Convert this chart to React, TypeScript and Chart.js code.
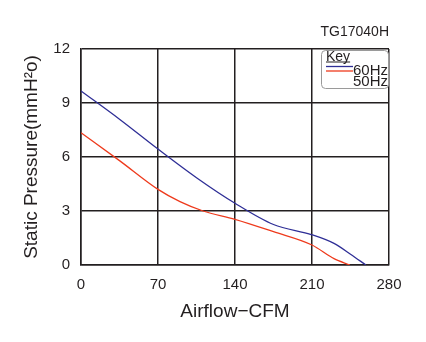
import React, { useEffect, useRef } from "react";
import { Chart, registerables } from "chart.js";

Chart.register(...registerables);

const chartTitle = "TG17040H";
const xTitle = "Airflow\u2212CFM";
const yTitle = "Static Pressure(mmH\u00B2o)";
const xTicks = [0, 70, 140, 210, 280];
const yTicks = [0, 3, 6, 9, 12];

const cfm60 = [0, 35, 70, 105, 140, 175, 210, 230, 245, 259];
const pressure60 = [9.67, 8.1, 6.44, 4.85, 3.43, 2.25, 1.68, 1.2, 0.6, 0];
const cfm50 = [0, 35, 70, 90, 111, 140, 175, 210, 230, 244.5];
const pressure50 = [7.35, 5.8, 4.2, 3.52, 3.0, 2.54, 1.85, 1.11, 0.35, 0];

const seriesNames = ["60Hz", "50Hz"];
const legendTitle = "Key";
const BLUE = "#2e2e96";
const RED = "#ee3a1c";
const GRID = "#231f20";
const FONT = "'Liberation Sans', Arial, sans-serif";

const keyPlugin = {
  id: "keyBox",
  afterDraw(chart: any) {
    const ctx = chart.ctx;
    const { right, top } = chart.chartArea;
    const x0 = right - 68;
    const y0 = top + 1;
    const w = 67;
    const h = 38;
    ctx.save();
    ctx.fillStyle = "#ffffff";
    ctx.strokeStyle = "#9a9a9a";
    ctx.lineWidth = 1;
    ctx.beginPath();
    (ctx as any).roundRect(x0 + 0.5, y0 + 0.5, w, h, 4);
    ctx.fill();
    ctx.stroke();
    ctx.font = `14px ${FONT}`;
    ctx.fillStyle = "#231f20";
    ctx.textBaseline = "alphabetic";
    ctx.textAlign = "left";
    ctx.fillText(legendTitle, x0 + 5, y0 + 10.5);
    const kw = ctx.measureText(legendTitle).width;
    ctx.strokeStyle = "#231f20";
    ctx.beginPath();
    ctx.moveTo(x0 + 5, y0 + 12);
    ctx.lineTo(x0 + 5 + kw, y0 + 12);
    ctx.stroke();
    ctx.lineWidth = 1.3;
    ctx.strokeStyle = BLUE;
    ctx.beginPath();
    ctx.moveTo(x0 + 5, y0 + 16.5);
    ctx.lineTo(x0 + 32, y0 + 16.5);
    ctx.stroke();
    ctx.strokeStyle = RED;
    ctx.beginPath();
    ctx.moveTo(x0 + 5, y0 + 21);
    ctx.lineTo(x0 + 32, y0 + 21);
    ctx.stroke();
    ctx.fillStyle = "#231f20";
    ctx.font = `15px ${FONT}`;
    ctx.fillText(seriesNames[0], x0 + 32, y0 + 25);
    ctx.fillText(seriesNames[1], x0 + 32, y0 + 35.5);
    ctx.restore();
  },
};

export default function App() {
  const ref = useRef<HTMLCanvasElement | null>(null);
  useEffect(() => {
    if (!ref.current) return;
    const toPts = (xs: number[], ys: number[]) => xs.map((x, i) => ({ x, y: ys[i] }));
    const chart = new Chart(ref.current, {
      type: "line",
      data: {
        datasets: [
          {
            label: seriesNames[0],
            data: toPts(cfm60, pressure60),
            borderColor: BLUE,
            borderWidth: 1.3,
            pointRadius: 0,
            cubicInterpolationMode: "monotone",
          },
          {
            label: seriesNames[1],
            data: toPts(cfm50, pressure50),
            borderColor: RED,
            borderWidth: 1.3,
            pointRadius: 0,
            cubicInterpolationMode: "monotone",
          },
        ],
      },
      options: {
        animation: false,
        responsive: false,
        devicePixelRatio: 1,
        layout: { padding: { top: 0, right: 37, left: 0, bottom: 0 } },
        plugins: {
          legend: { display: false },
          tooltip: { enabled: false },
          title: {
            display: true,
            text: chartTitle,
            align: "end",
            color: "#231f20",
            font: { family: FONT, size: 14, weight: "normal" },
            padding: { top: 24, bottom: 8.2 },
          },
        },
        scales: {
          x: {
            type: "linear",
            min: 0,
            max: 280,
            afterBuildTicks: (s: any) => {
              s.ticks = xTicks.map((v) => ({ value: v }));
            },
            afterFit: (s: any) => {
              s.height = 77;
            },
            ticks: {
              color: "#231f20",
              font: { family: FONT, size: 15 },
              padding: 11,
            },
            grid: { color: GRID, lineWidth: 1.5, drawTicks: false },
            border: { color: GRID, width: 1.5 },
            title: {
              display: true,
              text: xTitle,
              color: "#231f20",
              font: { family: FONT, size: 19 },
              padding: { top: 0, bottom: 19 },
            },
          },
          y: {
            min: 0,
            max: 12,
            afterBuildTicks: (s: any) => {
              s.ticks = yTicks.map((v) => ({ value: v }));
            },
            afterFit: (s: any) => {
              s.width = 81;
            },
            ticks: {
              color: "#231f20",
              font: { family: FONT, size: 15 },
              padding: 11,
            },
            grid: { color: GRID, lineWidth: 1.5, drawTicks: false },
            border: { color: GRID, width: 1.5 },
            title: {
              display: true,
              text: yTitle,
              color: "#231f20",
              font: { family: FONT, size: 19 },
              padding: { top: 20, bottom: 0 },
            },
          },
        },
      } as any,
      plugins: [keyPlugin],
    });
    return () => chart.destroy();
  }, []);
  return (
    <div style={{ position: "fixed", left: 0, top: 0, width: 426, height: 342, background: "#fff" }}>
      <canvas ref={ref} width={426} height={342} style={{ width: 426, height: 342 }} />
    </div>
  );
}
